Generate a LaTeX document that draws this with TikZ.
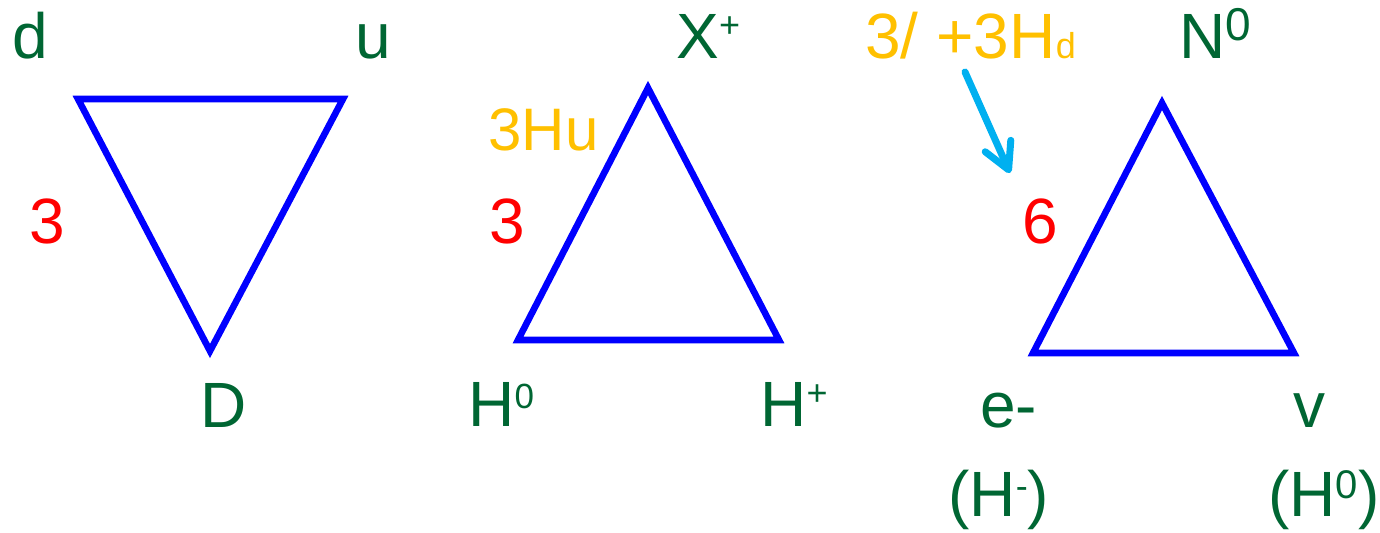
\documentclass[tikz,border=0pt]{standalone}
\usepackage{fontspec}
\setmainfont{Liberation Sans}
\usetikzlibrary{arrows.meta}

\definecolor{lblgreen}{RGB}{0,102,51}
\definecolor{numred}{RGB}{255,0,0}
\definecolor{hyorange}{RGB}{255,192,0}
\definecolor{triblue}{RGB}{0,0,255}
\definecolor{arrcyan}{RGB}{0,176,240}

% small raised index: size, raise, text
\newcommand{\hup}[3]{\raisebox{#2}{\fontsize{#1}{#1}\selectfont #3}}

\begin{document}
\begin{tikzpicture}[x=0.5pt, y=-0.5pt,
  tri/.style={draw=triblue, line width=3.3pt},
  lbl/.style={anchor=base west, inner sep=0pt, text=lblgreen, font=\fontsize{32}{36}\selectfont},
  num/.style={lbl, text=numred},
  hyp/.style={lbl, text=hyorange}]
  \useasboundingbox (0,0) rectangle (1380,532);

  % triangles
  \coordinate (d1) at (78,99);   \coordinate (u1) at (343,99);  \coordinate (D1) at (210,351);
  \coordinate (X2) at (648,88);  \coordinate (h2) at (518,340); \coordinate (p2) at (779,340);
  \coordinate (N3) at (1162,103); \coordinate (e3) at (1033,353); \coordinate (v3) at (1294,353);
  \draw[tri] (d1) -- (u1) -- (D1) -- cycle;
  \draw[tri] (X2) -- (p2) -- (h2) -- cycle;
  \draw[tri] (N3) -- (v3) -- (e3) -- cycle;

  % quark triangle
  \node[lbl] (qd) at (12,58) {d};
  \node[lbl] (qu) at (355,58) {u};
  \node[num] (qn) at (29,243) {3};
  \node[lbl] (qD) at (200,427) {D};

  % Higgs triangle
  \node[lbl] (hX) at (676,58) {X\hup{18}{10.5pt}{+}};
  \node[hyp, font=\fontsize{30}{34}\selectfont] (hu) at (488,150) {3Hu};
  \node[num] (hn) at (489,243) {3};
  \node[lbl] (hzero) at (468,426) {H\hup{17.5}{9pt}{0}};
  \node[lbl] (hplus) at (760,426) {H\hup{18}{10.5pt}{+}};

  % lepton triangle
  \node[hyp] (ld) at (865,58) {3/ +3H{\fontsize{18}{18}\selectfont d}};
  \node[lbl] (lN) at (1179,58) {N\hup{23}{9pt}{0}};
  \node[num] (ln) at (1022,243) {6};
  \node[lbl] (le) at (980,427) {e-};
  \node[lbl] (lv) at (1293,427) {v};
  \node[lbl] (lHm) at (948,516) {(H\hup{18}{9pt}{-})};
  \node[lbl] (lHz) at (1268,516) {(H\hup{20}{9pt}{0})};

  % arrow
  \coordinate (ar0) at (965,72);
  \coordinate (ar1) at (1010,173);
  \draw[arrcyan, line width=3.5pt, line cap=round,
    -{Straight Barb[length=13pt, width=14pt, round]}] (ar0) -- (ar1);
\end{tikzpicture}
\end{document}
